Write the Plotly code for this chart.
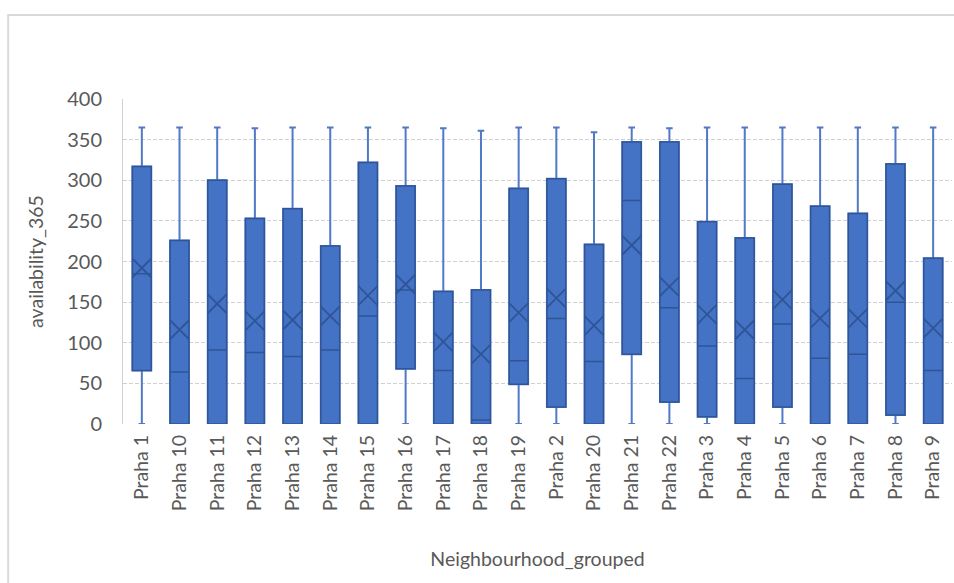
import plotly.graph_objects as go

# Availability (days per year) by Prague neighbourhood group
neighbourhoods = ["Praha 1", "Praha 10", "Praha 11", "Praha 12", "Praha 13", "Praha 14",
                  "Praha 15", "Praha 16", "Praha 17", "Praha 18", "Praha 19", "Praha 2",
                  "Praha 20", "Praha 21", "Praha 22", "Praha 3", "Praha 4", "Praha 5",
                  "Praha 6", "Praha 7", "Praha 8", "Praha 9"]
whisker_low = [0, 0, 0, 0, 0, 0, 0, 0, 0, 0, 0, 0, 0, 0, 0, 0, 0, 0, 0, 0, 0, 0]
q1 = [66, 0, 0, 0, 0, 0, 0, 68, 0, 0, 49, 21, 0, 86, 27, 9, 0, 21, 0, 0, 11, 0]
median = [185, 64, 91, 88, 83, 91, 133, 165, 66, 5, 78, 130, 77, 275, 143, 96, 56, 123, 81, 86, 150, 66]
q3 = [317, 226, 300, 253, 265, 219, 322, 293, 163, 165, 290, 302, 221, 347, 347, 249, 229, 295, 268, 259, 320, 204]
whisker_high = [365, 365, 365, 364, 365, 365, 365, 365, 364, 361, 365, 365, 359, 365, 364, 365, 365, 365, 365, 365, 365, 365]
mean = [192, 116, 148, 127, 128, 133, 158, 172, 101, 86, 137, 155, 121, 220, 169, 135, 116, 153, 130, 130, 164, 118]

FILL = "#4472C4"
EDGE = "#2F5597"
TEXT = "#595959"
GRID = "#D0D0D0"
FONT = "Lato"

fig = go.Figure()

# whiskers (lighter line)
fig.add_trace(go.Box(
    x=neighbourhoods, q1=q1, median=median, q3=q3,
    lowerfence=whisker_low, upperfence=whisker_high,
    fillcolor=FILL, line=dict(color="#5079C6", width=2),
    width=0.5, whiskerwidth=0.35, boxpoints=False,
    hoverinfo="skip", showlegend=False,
))
# boxes with darker outline and median line
fig.add_trace(go.Box(
    x=neighbourhoods, q1=q1, median=median, q3=q3,
    lowerfence=q1, upperfence=q3,
    fillcolor=FILL, line=dict(color=EDGE, width=1.5),
    width=0.5, whiskerwidth=0, boxpoints=False,
    showlegend=False,
))
# mean markers
fig.add_trace(go.Scatter(
    x=neighbourhoods, y=mean, mode="markers",
    marker=dict(symbol="x-thin", size=19, line=dict(color=EDGE, width=1.8)),
    showlegend=False,
))

fig.update_layout(
    width=954, height=583,
    margin=dict(l=123, r=2, t=99, b=159),
    paper_bgcolor="white", plot_bgcolor="white",
    font=dict(family=FONT, color=TEXT),
    shapes=[dict(type="rect", xref="paper", yref="paper",
                 x0=-0.1385, x1=1.2, y0=-1.0, y1=1.2585,
                 line=dict(color="#D9D9D9", width=2), layer="below")],
)
fig.update_xaxes(
    type="category", range=[-0.5, len(neighbourhoods) - 0.5],
    tickangle=-90, tickfont=dict(size=19.5, color=TEXT),
    showgrid=False, showline=False, ticks="", ticklabelstandoff=6,
    title=dict(text="Neighbourhood_grouped", font=dict(size=19.5, color=TEXT), standoff=42),
)
fig.update_yaxes(
    range=[0, 400], dtick=50, tickfont=dict(size=20, color=TEXT),
    showgrid=True, gridcolor=GRID, gridwidth=1, griddash="4px,2px",
    showline=True, linecolor=GRID, linewidth=1, zeroline=False,
    ticks="", ticklabelstandoff=16,
    title=dict(text="availability_365", font=dict(size=19.5, color=TEXT), standoff=18),
)

fig.write_html("out.html")
